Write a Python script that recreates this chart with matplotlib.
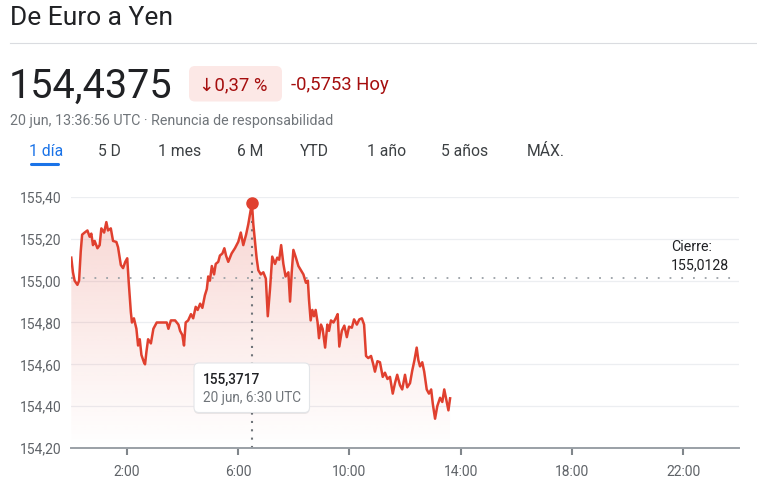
import numpy as np
import matplotlib.pyplot as plt
from matplotlib.colors import to_rgb
from matplotlib.patches import FancyBboxPatch, Polygon
from matplotlib.lines import Line2D
from matplotlib.transforms import IdentityTransform

plt.rcParams['font.family'] = ['Roboto', 'DejaVu Sans']

# EUR/JPY intraday quotes (hour of day UTC, price)
hours = [0.01, 0.07, 0.13, 0.23, 0.29, 0.35, 0.40, 0.49, 0.59, 0.67, 0.73, 0.79,
         0.85, 0.95, 1.03, 1.09, 1.19, 1.27, 1.33, 1.43, 1.51, 1.63, 1.69, 1.79,
         1.87, 1.95, 2.02, 2.07, 2.15, 2.19, 2.26, 2.35, 2.41, 2.47, 2.53, 2.62,
         2.66, 2.71, 2.77, 2.87, 2.96, 3.08, 3.26, 3.44, 3.50, 3.59, 3.74, 3.86,
         3.92, 4.00, 4.06, 4.12, 4.21, 4.31, 4.39, 4.48, 4.55, 4.64, 4.72, 4.81,
         4.88, 4.93, 4.99, 5.06, 5.14, 5.20, 5.29, 5.35, 5.44, 5.51, 5.57, 5.65,
         5.77, 5.89, 6.01, 6.10, 6.19, 6.29, 6.37, 6.50, 6.55, 6.61, 6.67, 6.73,
         6.82, 6.91, 7.00, 7.07, 7.15, 7.23, 7.33, 7.41, 7.48, 7.55, 7.63, 7.71,
         7.81, 7.87, 7.93, 7.99, 8.08, 8.17, 8.26, 8.35, 8.44, 8.51, 8.55, 8.61,
         8.67, 8.73, 8.79, 8.86, 8.91, 8.98, 9.04, 9.13, 9.21, 9.27, 9.34, 9.43,
         9.51, 9.58, 9.64, 9.73, 9.82, 9.91, 9.99, 10.09, 10.17, 10.27, 10.36, 10.45,
         10.53, 10.60, 10.68, 10.78, 10.86, 10.92, 11.01, 11.10, 11.20, 11.28, 11.37, 11.46,
         11.56, 11.64, 11.72, 11.82, 11.90, 12.00, 12.08, 12.18, 12.26, 12.34, 12.42, 12.48,
         12.54, 12.62, 12.69, 12.78, 12.86, 12.94, 13.00, 13.08, 13.16, 13.26, 13.34, 13.41,
         13.50, 13.56, 13.62]
prices = [155.11, 155.04, 155.00, 154.98, 155.00, 155.14, 155.22, 155.23, 155.24, 155.21, 155.225, 155.17,
          155.19, 155.155, 155.17, 155.25, 155.23, 155.28, 155.24, 155.25, 155.19, 155.185, 155.16, 155.075,
          155.06, 155.09, 155.107, 155.00, 154.85, 154.80, 154.82, 154.77, 154.69, 154.72, 154.645, 154.61,
          154.60, 154.66, 154.72, 154.70, 154.77, 154.80, 154.80, 154.80, 154.77, 154.81, 154.81, 154.79,
          154.76, 154.74, 154.69, 154.80, 154.81, 154.84, 154.82, 154.875, 154.86, 154.89, 154.87, 154.93,
          154.96, 155.02, 155.00, 155.07, 155.03, 155.08, 155.09, 155.12, 155.13, 155.155, 155.12, 155.09,
          155.13, 155.155, 155.186, 155.23, 155.17, 155.22, 155.27, 155.3717, 155.27, 155.19, 155.107, 155.05,
          155.03, 155.04, 155.01, 154.83, 154.96, 155.115, 155.08, 155.11, 155.10, 155.17, 155.08, 155.02,
          155.04, 154.90, 155.04, 155.147, 155.11, 155.07, 155.05, 155.03, 154.99, 155.00, 154.91, 154.81,
          154.86, 154.83, 154.86, 154.80, 154.725, 154.79, 154.77, 154.68, 154.79, 154.76, 154.81, 154.80,
          154.82, 154.84, 154.685, 154.76, 154.785, 154.73, 154.78, 154.775, 154.815, 154.79, 154.815, 154.82,
          154.79, 154.64, 154.63, 154.64, 154.60, 154.565, 154.615, 154.61, 154.54, 154.56, 154.53, 154.54,
          154.46, 154.51, 154.55, 154.50, 154.48, 154.55, 154.49, 154.51, 154.57, 154.62, 154.68, 154.62,
          154.59, 154.61, 154.565, 154.48, 154.46, 154.48, 154.41, 154.34, 154.40, 154.44, 154.42, 154.48,
          154.42, 154.38, 154.4375]

close_price = 155.0128
peak_hour = 6.5
peak_price = 155.3717

y_ticks = [154.2, 154.4, 154.6, 154.8, 155.0, 155.2, 155.4]
y_labels = ["154,20", "154,40", "154,60", "154,80", "155,00", "155,20", "155,40"]
x_ticks = [2, 6, 10, 14, 18, 22]
x_labels = ["2:00", "6:00", "10:00", "14:00", "18:00", "22:00"]
tabs = ["1 día", "5 D", "1 mes", "6 M", "YTD", "1 año", "5 años", "MÁX."]

# layout (pixels)
W, H = 757, 490
tab_x = [29, 98, 158, 237, 300, 367, 441, 527]
red = '#e0402f'

fig = plt.figure(figsize=(W / 100, H / 100), dpi=100)


def fx(x):
    return x / W


def fy(y):
    return 1 - y / H


# header
fig.text(fx(10), fy(25), "De Euro a Yen", fontsize=19, color='#202124', va='baseline')
fig.add_artist(Line2D([10, W], [H - 43, H - 43], transform=IdentityTransform(),
                      color='#dadce0', lw=0.8))
fig.text(fx(9), fy(98), "154,4375", fontsize=28.5, color='#202124', va='baseline')
fig.add_artist(FancyBboxPatch((189, H - 101.5), 93, 35.5, transform=IdentityTransform(),
                              boxstyle='round,pad=0,rounding_size=6',
                              facecolor='#fce8e6', edgecolor='none'))
fig.text(fx(199), fy(90.5), "↓0,37 %", fontsize=13.3, color='#a50e0e', va='baseline')
fig.text(fx(291), fy(90.5), "-0,5753 Hoy", fontsize=13.3, color='#a50e0e', va='baseline')
fig.text(fx(10), fy(125), "20 jun, 13:36:56 UTC · Renuncia de responsabilidad",
         fontsize=10.3, color='#70757a', va='baseline')
for label, x in zip(tabs, tab_x):
    col = '#1a73e8' if label == "1 día" else '#3c4043'
    fig.text(fx(x), fy(156), label, fontsize=11.3, color=col, va='baseline')
fig.add_artist(Line2D([31, 58], [H - 163.5, H - 163.5], transform=IdentityTransform(),
                      color='#1a73e8', lw=2.2, solid_capstyle='round'))

# chart
ax = fig.add_axes([fx(71), fy(448), (739 - 71) / W, (448 - 197) / H])

verts = [(hours[0], y_ticks[0])] + list(zip(hours, prices)) + [(hours[-1], y_ticks[0])]
poly = Polygon(verts, closed=True, facecolor='none', edgecolor='none')
ax.add_patch(poly)
rgba = np.zeros((256, 1, 4))
rgba[..., :3] = to_rgb(red)
rgba[..., 3] = np.linspace(0.22, 0.0, 256)[:, None]
im = ax.imshow(rgba, extent=[0, 24, y_ticks[0], y_ticks[-1]], origin='upper',
               aspect='auto', zorder=1, interpolation='bilinear')
im.set_clip_path(poly)

for yv in y_ticks[1:]:
    ax.axhline(yv, color='#eceef1', lw=0.9, zorder=0.5)
ax.axhline(close_price, color='#9aa0a6', lw=1.3, ls=(0, (1, 5.5)), zorder=2)

ax.plot(hours, prices, color=red, lw=1.8, zorder=3, solid_joinstyle='round')
ax.plot([peak_hour, peak_hour], [y_ticks[0], peak_price], color='#70757a', lw=1.5,
        ls=(0, (1, 3)), zorder=2.5)
ax.plot([peak_hour], [peak_price], 'o', color=red, ms=8, zorder=4, clip_on=False)

ax.set_xlim(0, 24)
ax.set_ylim(y_ticks[0], y_ticks[-1])
ax.set_xticks(x_ticks, x_labels)
ax.set_yticks(y_ticks, y_labels)
for s in ['top', 'left', 'right']:
    ax.spines[s].set_visible(False)
ax.spines['bottom'].set_color('#9aa0a6')
ax.spines['bottom'].set_linewidth(1.4)
ax.spines['bottom'].set_zorder(5)
ax.tick_params(axis='x', direction='out', length=5, width=1.5, color='#80868b',
               labelsize=10, labelcolor='#5f6368', pad=7)
ax.tick_params(axis='y', length=0, labelsize=10, labelcolor='#5f6368', pad=7)
ax.set_facecolor('none')

fig.text(fx(671), fy(251), "Cierre:", fontsize=10.2, color='#202124', va='baseline')
fig.text(fx(671), fy(269), "155,0128", fontsize=10.2, color='#202124', va='baseline')

# tooltip
fig.add_artist(FancyBboxPatch((194, H - 414), 115.5, 50, transform=IdentityTransform(),
                              boxstyle='round,pad=0,rounding_size=5',
                              facecolor='#000000', alpha=0.08, edgecolor='none', zorder=5))
fig.add_artist(FancyBboxPatch((194, H - 412.5), 115.5, 49.5, transform=IdentityTransform(),
                              boxstyle='round,pad=0,rounding_size=5',
                              facecolor='white', edgecolor='#e3e5e8', lw=0.8, zorder=6))
fig.text(fx(203), fy(384), "155,3717", fontsize=9.8, color='#202124', va='baseline',
         fontweight='medium', zorder=7)
fig.text(fx(203), fy(402), "20 jun, 6:30 UTC", fontsize=9.8, color='#70757a',
         va='baseline', zorder=7)

fig.savefig('out.png', dpi=100)
